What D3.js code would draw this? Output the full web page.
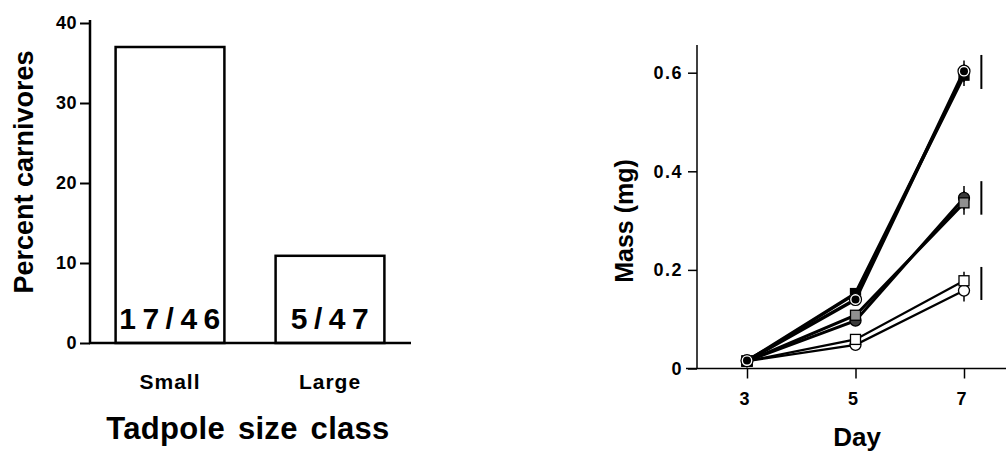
<!DOCTYPE html>
<html>
<head>
<meta charset="utf-8">
<script src="https://cdn.jsdelivr.net/npm/d3@7"></script>
<style>
  body { margin: 0; background: #fff; }
  text { font-family: "Liberation Sans", Arial, sans-serif; font-weight: bold; fill: #000; }
</style>
</head>
<body>
<svg id="fig" width="1006" height="451"></svg>
<script>
// left panel data
const sizeClasses = ['Small', 'Large']
const percentCarnivores = [37.0, 10.9]
const countLabels = ['17/46', '5/47']
const percentTicks = [0, 10, 20, 30, 40]

// right panel data
const days = [3, 5, 7]
const dayTicks = [3, 5, 7]
const massTicks = [0, 0.2, 0.4, 0.6]
const blackSquare = [0.015, 0.152, 0.595]
const blackCircle = [0.016, 0.140, 0.603]
const greySquare = [0.015, 0.108, 0.336]
const greyCircle = [0.015, 0.097, 0.346]
const openSquare = [0.015, 0.059, 0.178]
const openCircle = [0.015, 0.048, 0.158]
const blackSquareErr = [0.004, 0.008, 0.022]
const blackCircleErr = [0.004, 0.008, 0.022]
const greySquareErr = [0.004, 0.007, 0.024]
const greyCircleErr = [0.004, 0.007, 0.024]
const openSquareErr = [0.004, 0.006, 0.018]
const openCircleErr = [0.004, 0.006, 0.022]
// vertical bars to the right of day 7 (day position, low, high)
const bracketDay = 7.32
const bracketLow = [0.567, 0.312, 0.139]
const bracketHigh = [0.636, 0.38, 0.206]

const svg = d3.select('#fig')
const fontFam = '"Liberation Sans", Arial, sans-serif'

// ---------- left: bar chart ----------
const xb = d3.scaleBand()
    .domain(sizeClasses)
    .range([90, 410])
    .paddingInner(0.32)
    .paddingOuter(0.16)

const yb = d3.scaleLinear()
    .domain([0, 40])
    .range([343, 23])

const left = svg.append('g')

left.append('g')
    .attr('transform', 'translate(90,0)')
    .call(d3.axisLeft(yb).tickValues(percentTicks).tickSize(10).tickPadding(3))
    .call(g => g.select('.domain').remove())
    .call(g => g.selectAll('line').attr('stroke', '#000').attr('stroke-width', 2))
    .call(g => g.selectAll('text').attr('font-size', 18).attr('letter-spacing', 0.5)
        .style('font-family', fontFam).style('font-weight', 'bold'))

left.selectAll('rect.bar')
    .data(percentCarnivores)
    .join('rect')
    .attr('class', 'bar')
    .attr('x', (d, i) => xb(sizeClasses[i]))
    .attr('y', d => yb(d))
    .attr('width', xb.bandwidth())
    .attr('height', d => yb(0) - yb(d))
    .attr('fill', '#fff')
    .attr('stroke', '#000')
    .attr('stroke-width', 2.5)

// axis lines
left.append('line')
    .attr('x1', 90).attr('x2', 90)
    .attr('y1', 20).attr('y2', yb(0) + 1)
    .attr('stroke', '#000').attr('stroke-width', 2.5)
left.append('line')
    .attr('x1', 89).attr('x2', 411)
    .attr('y1', yb(0)).attr('y2', yb(0))
    .attr('stroke', '#000').attr('stroke-width', 2.5)

left.selectAll('text.count')
    .data(countLabels)
    .join('text')
    .attr('class', 'count')
    .attr('x', (d, i) => xb(sizeClasses[i]) + xb.bandwidth() / 2 + 3)
    .attr('y', 329)
    .attr('text-anchor', 'middle')
    .attr('font-size', 30)
    .attr('letter-spacing', 6.5)
    .text(d => d)

left.selectAll('text.cat')
    .data(sizeClasses)
    .join('text')
    .attr('class', 'cat')
    .attr('x', d => xb(d) + xb.bandwidth() / 2)
    .attr('y', 389)
    .attr('text-anchor', 'middle')
    .attr('font-size', 21)
    .attr('letter-spacing', 1)
    .text(d => d)

left.append('text')
    .attr('x', 248).attr('y', 439)
    .attr('text-anchor', 'middle')
    .attr('font-size', 31)
    .attr('letter-spacing', 0.3)
    .attr('word-spacing', 4)
    .text('Tadpole size class')

left.append('text')
    .attr('transform', 'translate(33,172) rotate(-90)')
    .attr('text-anchor', 'middle')
    .attr('font-size', 27)
    .text('Percent carnivores')

// ---------- right: growth lines ----------
const x = d3.scaleLinear()
    .domain([3, 7])
    .range([747, 964])

const y = d3.scaleLinear()
    .domain([0, 0.6])
    .range([368.5, 72.7])

const right = svg.append('g')

right.append('g')
    .attr('transform', 'translate(697,0)')
    .call(d3.axisLeft(y).tickValues(massTicks).tickSize(9).tickPadding(5)
        .tickFormat(d => d === 0 ? '0' : d3.format('.1f')(d)))
    .call(g => g.select('.domain').remove())
    .call(g => g.selectAll('line').attr('stroke', '#000').attr('stroke-width', 1.5))
    .call(g => g.selectAll('text').attr('font-size', 18).attr('letter-spacing', 1.5)
        .style('font-family', fontFam).style('font-weight', 'bold'))

right.append('g')
    .attr('transform', 'translate(0,368.5)')
    .call(d3.axisBottom(x).tickValues(dayTicks).tickSize(10).tickPadding(14)
        .tickFormat(d3.format('d')))
    .call(g => g.select('.domain').remove())
    .call(g => g.selectAll('line').attr('stroke', '#000').attr('stroke-width', 1.5))
    .call(g => g.selectAll('text').attr('font-size', 18).attr('dx', -3)
        .style('font-family', fontFam).style('font-weight', 'bold'))

right.append('line')
    .attr('x1', 697).attr('x2', 697)
    .attr('y1', 45).attr('y2', 369)
    .attr('stroke', '#000').attr('stroke-width', 1.5)
right.append('line')
    .attr('x1', 686).attr('x2', 1006)
    .attr('y1', y(0)).attr('y2', y(0))
    .attr('stroke', '#000').attr('stroke-width', 1.5)

const series = [
    {vals: greyCircle, err: greyCircleErr, shape: 'circle', fill: '#3a3a3a', lw: 3},
    {vals: greySquare, err: greySquareErr, shape: 'square', fill: '#8f8f8f', lw: 3},
    {vals: openCircle, err: openCircleErr, shape: 'circle', fill: '#fff', lw: 2.2},
    {vals: openSquare, err: openSquareErr, shape: 'square', fill: '#fff', lw: 2.2},
    {vals: blackSquare, err: blackSquareErr, shape: 'square', fill: '#000', lw: 3.5},
    {vals: blackCircle, err: blackCircleErr, shape: 'ringed', fill: '#000', lw: 3.5}
]

const line = d3.line()
    .x((d, i) => x(days[i]))
    .y(d => y(d))

// error bars
series.forEach(s => {
    right.append('g').selectAll('line')
        .data(s.vals)
        .join('line')
        .attr('x1', (d, i) => x(days[i])).attr('x2', (d, i) => x(days[i]))
        .attr('y1', (d, i) => y(d - s.err[i]))
        .attr('y2', (d, i) => y(d + s.err[i]))
        .attr('stroke', '#000').attr('stroke-width', 1.5)
})

series.forEach(s => {
    right.append('path')
        .datum(s.vals)
        .attr('d', line)
        .attr('fill', 'none')
        .attr('stroke', '#000')
        .attr('stroke-width', s.lw)
})

series.forEach(s => {
    const g = right.append('g')
    s.vals.forEach((d, i) => {
        const cx = x(days[i]), cy = y(d)
        if (s.shape === 'square') {
            g.append('rect')
                .attr('x', cx - 5).attr('y', cy - 5)
                .attr('width', 10).attr('height', 10)
                .attr('fill', s.fill).attr('stroke', '#000').attr('stroke-width', 1.3)
        } else if (s.shape === 'circle') {
            g.append('circle')
                .attr('cx', cx).attr('cy', cy).attr('r', 5.5)
                .attr('fill', s.fill).attr('stroke', '#000').attr('stroke-width', 1.3)
        } else {
            g.append('circle')
                .attr('cx', cx).attr('cy', cy).attr('r', 6)
                .attr('fill', '#fff').attr('stroke', '#000').attr('stroke-width', 1.2)
            g.append('circle')
                .attr('cx', cx).attr('cy', cy).attr('r', 4)
                .attr('fill', '#000')
        }
    })
})

right.selectAll('line.bracket')
    .data(bracketLow)
    .join('line')
    .attr('class', 'bracket')
    .attr('x1', x(bracketDay)).attr('x2', x(bracketDay))
    .attr('y1', d => y(d))
    .attr('y2', (d, i) => y(bracketHigh[i]))
    .attr('stroke', '#000').attr('stroke-width', 2)

right.append('text')
    .attr('x', 857).attr('y', 446)
    .attr('text-anchor', 'middle')
    .attr('font-size', 26)
    .text('Day')

right.append('text')
    .attr('transform', 'translate(633,221) rotate(-90)')
    .attr('text-anchor', 'middle')
    .attr('font-size', 25)
    .text('Mass (mg)')
</script>
</body>
</html>
